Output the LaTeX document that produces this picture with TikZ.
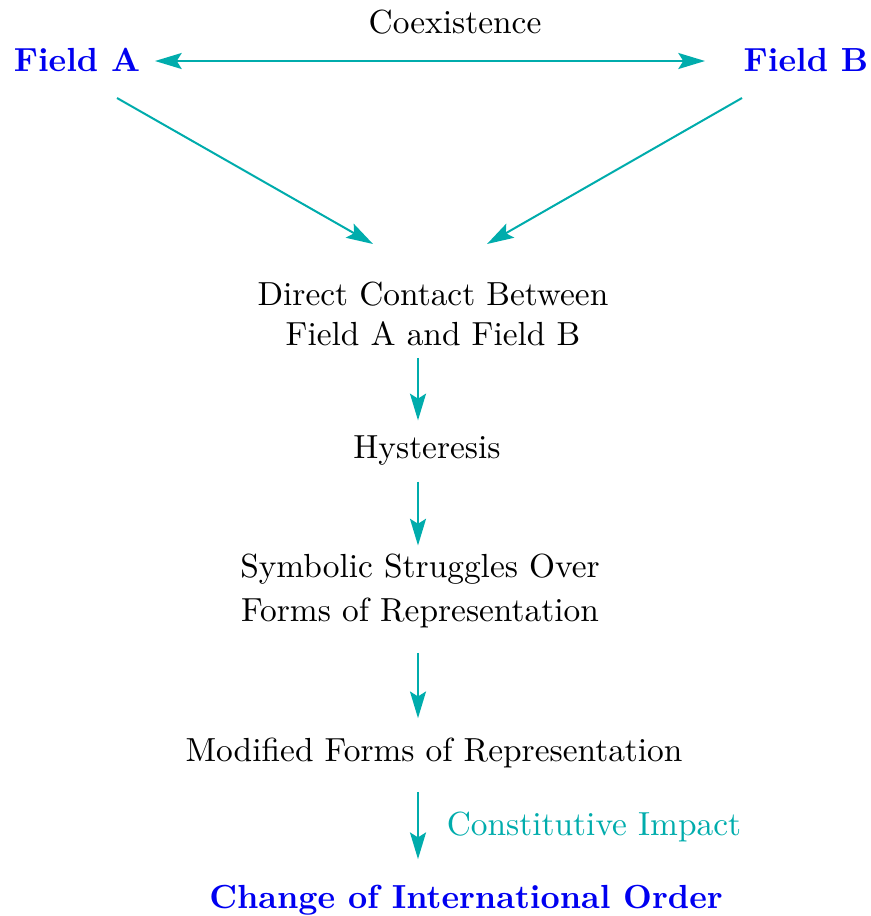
\documentclass[tikz,border=0pt]{standalone}
\usetikzlibrary{arrows.meta}
\definecolor{flowcyan}{RGB}{0,172,172}
\definecolor{fieldblue}{RGB}{0,0,240}
\begin{document}
\begin{tikzpicture}[x=0.2994pt,y=-0.2994pt,
  field/.style={font=\bfseries,text=fieldblue},
  stage/.style={align=center},
  flow/.style={flowcyan,semithick,-{Stealth[length=8pt,width=4.8pt,inset=1.5pt]}},
  twoway/.style={flowcyan,semithick,{Stealth[length=8pt,width=4.8pt,inset=1.5pt]}-{Stealth[length=8pt,width=4.8pt,inset=1.5pt]}}]
\useasboundingbox (0,0) rectangle (870,916);

\node[field] at (77,60)  (fa) {Field A};
\node[field] at (806,60) (fb) {Field B};
\node at (455,22) (coex) {Coexistence};

\node[stage] at (433,314) (contact) {Direct Contact Between\\Field A and Field B};
\node[stage] at (427,451) (hyst)    {Hysteresis};
\node[stage] at (420,591) (symb)    {Symbolic Struggles Over\\[1.2pt]Forms of Representation};
\node[stage] at (434,753) (modif)   {Modified Forms of Representation};
\node[field] at (466,900) (change)  {Change of International Order};

\coordinate (ca) at (373,244);
\coordinate (cb) at (487,244);

\draw[twoway] (155,61) -- (705,61);
\draw[flow] (117,98) -- (ca);
\draw[flow] (742,98) -- (cb);

\draw[flow,shorten >=1.2pt] (contact.south -| 418,0) -- (hyst.north -| 418,0);
\draw[flow,shorten <=1.2pt,shorten >=-1pt] (hyst.south -| 418,0) -- (symb.north -| 418,0);
\draw[flow,shorten <=3.9pt,shorten >=2.4pt] (symb.south -| 418,0) -- (modif.north -| 418,0);
\draw[flow,shorten <=3.6pt,shorten >=4.2pt] (modif.south -| 418,0)
  -- node[right=5pt,text=flowcyan] (impact) {Constitutive Impact} (change.north -| 418,0);

\end{tikzpicture}
\end{document}
